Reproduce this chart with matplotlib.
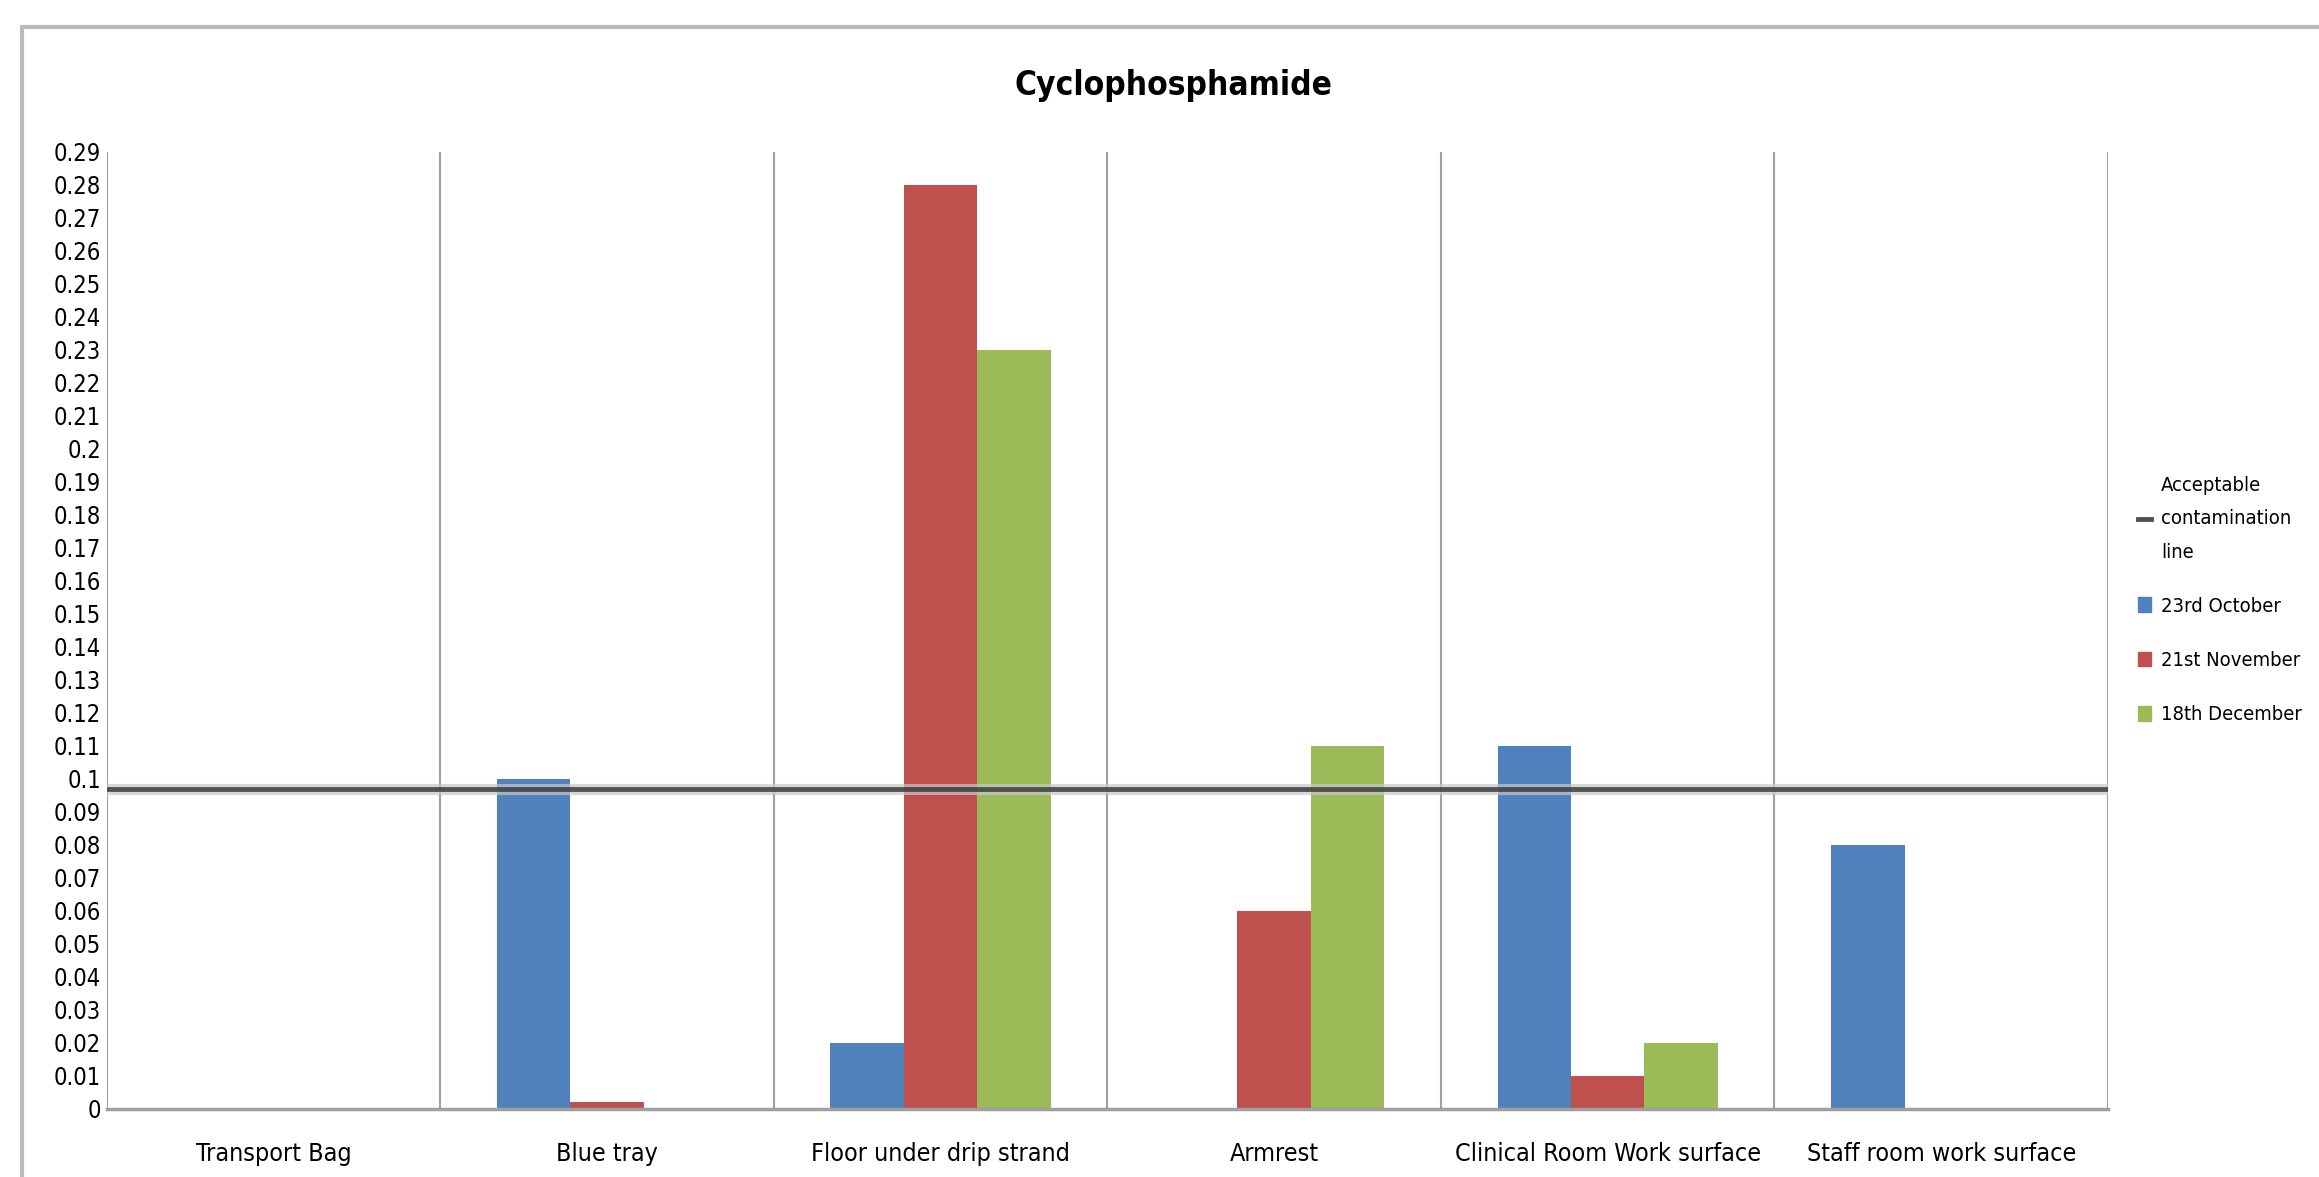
import matplotlib.pyplot as plt
import numpy as np
from matplotlib.lines import Line2D
from matplotlib.patches import Patch, Rectangle

plt.rcParams['font.family'] = ['DejaVu Sans']
plt.rcParams['font.stretch'] = 'condensed'

# data
sites = ["Transport Bag", "Blue tray", "Floor under drip strand", "Armrest",
         "Clinical Room Work surface", "Staff room work surface"]
oct_23 = [0, 0.10, 0.02, 0, 0.11, 0.08]
nov_21 = [0, 0.002, 0.28, 0.06, 0.01, 0]
dec_18 = [0, 0, 0.23, 0.11, 0.02, 0]
acceptable = 0.097
series_names = ["23rd October", "21st November", "18th December"]
colors = ["#4F81BD", "#C0504D", "#9BBB59"]

fig = plt.figure(figsize=(23.19, 11.77), dpi=100)
ax = fig.add_axes([0.046, 0.058, 0.863, 0.813])

x = np.arange(len(sites))
w = 0.22
for i, (vals, c) in enumerate(zip([oct_23, nov_21, dec_18], colors)):
    ax.bar(x + (i - 1) * w, vals, w, color=c, zorder=2)

# category separators
for b in np.arange(-0.5, len(sites), 1.0):
    ax.axvline(b, color="#a0a0a0", lw=1.5, zorder=1)

# acceptable contamination line
ax.axhline(acceptable, color="#c8c8c8", lw=8, zorder=3, alpha=0.7)
ax.axhline(acceptable, color="#3c3c3c", lw=3.5, zorder=4, alpha=0.85)

ax.set_xlim(-0.5, len(sites) - 0.5)
ax.set_ylim(0, 0.29)
yt = np.round(np.arange(0, 0.2901, 0.01), 2)
ax.set_yticks(yt)
ax.set_yticklabels([f"{v:g}" for v in yt], fontsize=17)
ax.set_xticks(x)
ax.set_xticklabels(sites, fontsize=18)
ax.tick_params(axis="both", length=0)
ax.tick_params(axis="x", pad=24)
ax.tick_params(axis="y", pad=4)
for s in ["top", "right", "left"]:
    ax.spines[s].set_visible(False)
ax.spines["bottom"].set_color("#a0a0a0")
ax.spines["bottom"].set_linewidth(2.5)

fig.text(0.506, 0.927, "Cyclophosphamide", ha="center", va="center",
         fontsize=24, fontweight="bold")

handles = [Line2D([0], [0], color="#505050", lw=3.5)]
handles += [Patch(color=c) for c in colors]
labels = ["Acceptable\ncontamination\nline"] + series_names
leg = fig.legend(handles, labels, loc="center left", bbox_to_anchor=(0.914, 0.49),
                 frameon=False, fontsize=14.5, handlelength=0.65, handleheight=0.75,
                 handletextpad=0.5, labelspacing=1.75)
leg.get_texts()[0].set_linespacing(1.95)

# outer chart frame
fig.patches.append(Rectangle((0.0095, -0.2), 1.2, 1.177, transform=fig.transFigure,
                             fill=False, edgecolor="#bbbbbb", lw=3))

plt.savefig("out.png", dpi=100)
